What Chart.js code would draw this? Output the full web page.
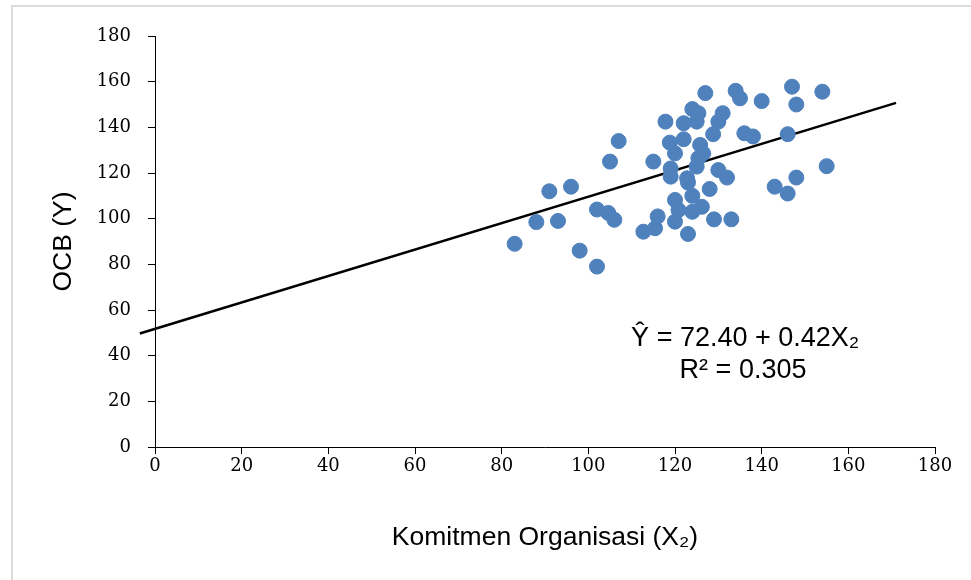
<!DOCTYPE html>
<html>
<head>
<meta charset="utf-8">
<script src="https://cdn.jsdelivr.net/npm/chart.js@4/dist/chart.umd.min.js"></script>
<style>
    body { margin: 0; background: #fff; }
    canvas { display: block; }
</style>
</head>
<body>
<canvas id="chartOcb" width="971" height="580"></canvas>
<script>
// observed points (Komitmen Organisasi, OCB)
var komitmen = [83, 88, 91, 93, 96, 98, 102, 102, 105, 104.6, 106, 107, 112.7, 115.4, 116, 115,
    117.8, 118.8, 119, 119, 120, 120, 120.8, 120, 122, 122, 122.8, 123, 123, 124, 124, 124,
    125.4, 125, 125, 125.4, 125.8, 126.5, 126.2, 127, 128, 128.8, 129, 130, 131, 130, 132,
    133, 134, 135, 136, 138, 140, 143, 146, 146, 147, 148, 148, 154, 155];
var ocb = [89, 98.5, 112, 99, 114, 86, 104, 79, 125, 102.5, 99.5, 134, 94.3, 95.8, 101, 125,
    142.5, 133.3, 122, 118.4, 128.6, 108.2, 103.8, 98.7, 141.8, 134.8, 117.7, 115.8, 93.3, 110, 103, 148,
    146.2, 142.5, 122.8, 126.5, 132.3, 128.6, 105.2, 155, 113, 137, 99.7, 142.5, 146.2, 121.3, 118,
    99.7, 156, 152.7, 137.4, 136, 151.5, 114, 137, 111, 157.8, 150, 118, 155.6, 123];

// trend line as drawn
var lineX = [-3.5, 171];
var lineY = [49.7, 150.7];

var xTicks = [0, 20, 40, 60, 80, 100, 120, 140, 160, 180];
var yTicks = [0, 20, 40, 60, 80, 100, 120, 140, 160, 180];

var eqText = ['\u0176 = 72.40 + 0.42X\u2082', 'R\u00b2 = 0.305'];
var eqPosX = [136.2, 135.7];
var eqPosY = [47.7, 33.7];

var points = komitmen.map(function (x, i) { return { x: x, y: ocb[i] }; });
var trend = lineX.map(function (x, i) { return { x: x, y: lineY[i] }; });

var frame = {
    id: 'frame',
    beforeDraw: function (chart) {
        var ctx = chart.ctx;
        ctx.save();
        ctx.fillStyle = '#fff';
        ctx.fillRect(0, 0, chart.width, chart.height);
        ctx.fillStyle = '#dcdcdc';
        ctx.fillRect(11, 5, 2, chart.height - 5);
        ctx.fillRect(11, 5, chart.width - 11, 2);
        ctx.restore();
    },
    afterDraw: function (chart) {
        var ctx = chart.ctx;
        var sx = chart.scales.x, sy = chart.scales.y;
        ctx.save();
        ctx.fillStyle = '#000';
        ctx.font = '27px "Liberation Sans", Arial, sans-serif';
        ctx.textAlign = 'center';
        ctx.textBaseline = 'middle';
        for (var i = 0; i < eqText.length; i++) {
            ctx.fillText(eqText[i], sx.getPixelForValue(eqPosX[i]), sy.getPixelForValue(eqPosY[i]));
        }
        ctx.restore();
    }
};

var tickFont = { family: '"DejaVu Serif", serif', size: 18 };
var titleFont = { family: '"Liberation Sans", Arial, sans-serif', size: 26.5 };

new Chart(document.getElementById('chartOcb'), {
    type: 'scatter',
    data: {
        datasets: [{
            label: 'OCB',
            data: points,
            backgroundColor: '#4f81bd',
            borderColor: '#4f81bd',
            pointRadius: 7.5,
            pointHoverRadius: 7.5
        }, {
            label: 'Linear',
            type: 'line',
            data: trend,
            borderColor: '#000',
            borderWidth: 2.5,
            pointRadius: 0,
            fill: false,
            clip: false
        }]
    },
    options: {
        responsive: false,
        animation: false,
        devicePixelRatio: 1,
        layout: { padding: { top: 36, right: 36, left: 0, bottom: 0 } },
        plugins: { legend: { display: false }, tooltip: { enabled: false } },
        scales: {
            x: {
                type: 'linear',
                min: 0, max: 180,
                afterBuildTicks: function (scale) { scale.ticks = xTicks.map(function (v) { return { value: v }; }); },
                afterFit: function (scale) { scale.height = 133; },
                grid: { drawOnChartArea: false, color: '#000', tickColor: '#000', tickLength: 7 },
                border: { display: true, color: '#000', width: 1 },
                ticks: { color: '#000', font: tickFont, padding: 2, maxRotation: 0 },
                title: { display: true, text: 'Komitmen Organisasi (X\u2082)', color: '#000', font: titleFont, padding: { bottom: 26 } }
            },
            y: {
                type: 'linear',
                min: 0, max: 180,
                afterBuildTicks: function (scale) { scale.ticks = yTicks.map(function (v) { return { value: v }; }); },
                afterFit: function (scale) { scale.width = 155; },
                grid: { drawOnChartArea: false, color: '#000', tickColor: '#000', tickLength: 7 },
                border: { display: true, color: '#000', width: 1 },
                ticks: { color: '#000', font: tickFont, padding: 17 },
                title: { display: true, text: 'OCB (Y)', color: '#000', font: titleFont, padding: { top: 48 } }
            }
        }
    },
    plugins: [frame]
});
</script>
</body>
</html>
